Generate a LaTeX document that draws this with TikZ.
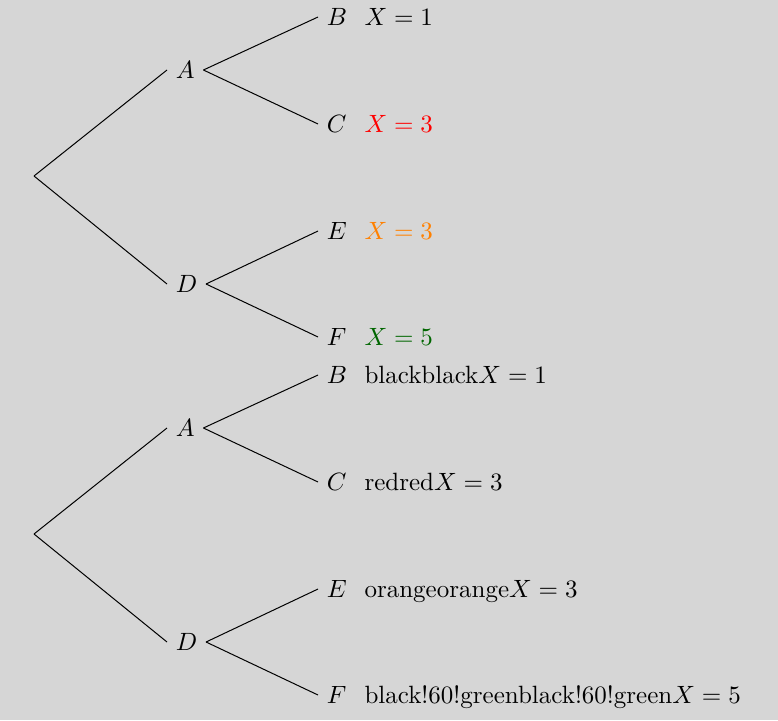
\documentclass[tikz,border=0pt]{standalone}
\begin{document}
\begin{tikzpicture}[x=0.4pt,y=-0.4pt,
  inner node/.style={anchor=west},
  leaf/.style={anchor=west},
  val/.style={anchor=base west,inner sep=0pt},
  edge/.style={draw=black,line width=0.4pt}]
\definecolor{bg}{RGB}{214,214,214}
\fill[bg] (0,0) rectangle (778,720);
\useasboundingbox (0,0) rectangle (778,720);
% ---------- tree 1 ----------
\coordinate (r1) at (34,176);
\node[inner node] (a1) at (167,70) {$A$};
\node[inner node] (d1) at (167,284) {$D$};
\node[leaf] (b1) at (318,17) {$B$};
\node[leaf] (c1) at (318,124) {$C$};
\node[leaf] (e1) at (318,231) {$E$};
\node[leaf] (f1) at (318,337) {$F$};
\draw[edge] (r1) -- (a1.west);
\draw[edge] (r1) -- (d1.west);
\draw[edge] (a1.east) -- (b1.west);
\draw[edge] (a1.east) -- (c1.west);
\draw[edge] (d1.east) -- (e1.west);
\draw[edge] (d1.east) -- (f1.west);
\node[val] (xb1) at (364,25.5) {$X=1$};
\node[val,text=red] (xc1) at (364,132.5) {$X=3$};
\node[val,text=orange] (xe1) at (364,239.5) {$X=3$};
\node[val,text=black!60!green] (xf1) at (364,345.5) {$X=5$};
% ---------- tree 2 ----------
\coordinate (r2) at (34,534);
\node[inner node] (a2) at (167,428) {$A$};
\node[inner node] (d2) at (167,642) {$D$};
\node[leaf] (b2) at (318,375) {$B$};
\node[leaf] (c2) at (318,482) {$C$};
\node[leaf] (e2) at (318,589) {$E$};
\node[leaf] (f2) at (318,695) {$F$};
\draw[edge] (r2) -- (a2.west);
\draw[edge] (r2) -- (d2.west);
\draw[edge] (a2.east) -- (b2.west);
\draw[edge] (a2.east) -- (c2.west);
\draw[edge] (d2.east) -- (e2.west);
\draw[edge] (d2.east) -- (f2.west);
\node[val] (xb2) at (364,383.5) {blackblack$X=1$};
\node[val] (xc2) at (364,490.5) {redred$X=3$};
\node[val] (xe2) at (364,597.5) {orangeorange$X=3$};
\node[val] (xf2) at (364,703.5) {black!60!greenblack!60!green$X=5$};
\end{tikzpicture}
\end{document}
